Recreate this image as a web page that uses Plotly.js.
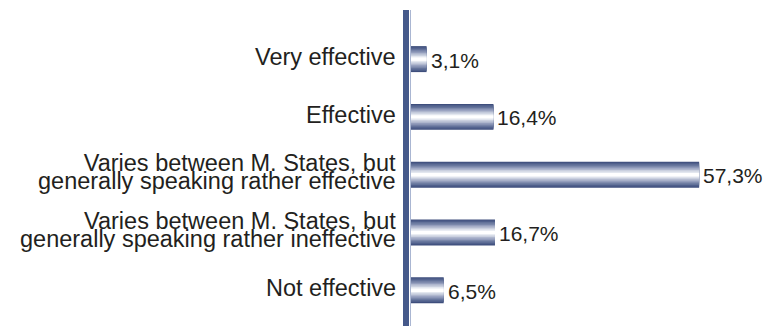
<!DOCTYPE html>
<html>
<head>
<meta charset="utf-8">
<script src="https://cdn.plot.ly/plotly-3.0.1.min.js"></script>
<style>
  html, body { margin: 0; padding: 0; background: #ffffff; }
  #chart { width: 766px; height: 326px; }
</style>
</head>
<body>
<div id="chart"></div>
<script>
// ---- data ----
var categories = [
  "Very effective",
  "Effective",
  "Varies between M. States, but\ngenerally speaking rather effective",
  "Varies between M. States, but\ngenerally speaking rather ineffective",
  "Not effective"
];
var values = [3.1, 16.4, 57.3, 16.7, 6.5];
var valueLabels = ["3,1%", "16,4%", "57,3%", "16,7%", "6,5%"];

// ---- styling: layered bars to imitate the metallic gradient ----
var layers = [
  {w: 0.45, c: "#3e4e7c"},
  {w: 0.41, c: "#4f5f8b"},
  {w: 0.36, c: "#63729a"},
  {w: 0.31, c: "#7a87aa"},
  {w: 0.26, c: "#939dbc"},
  {w: 0.21, c: "#aeb6cd"},
  {w: 0.16, c: "#cad0df"},
  {w: 0.11, c: "#e3e7ef"},
  {w: 0.06, c: "#ffffff"}
];

var traces = layers.map(function (L) {
  return {
    type: "bar",
    orientation: "h",
    x: values,
    y: categories,
    width: L.w,
    marker: {color: L.c, line: {width: 0}},
    textposition: "none",
    hoverinfo: "skip",
    showlegend: false
  };
});

var FONT = "Liberation Sans, Arial, sans-serif";
var CAT_SIZE = 23.5;
var LINE_EM = 18 / CAT_SIZE;          // tight line spacing of the reference
var annotations = [];
categories.forEach(function (cat, i) {
  var lines = cat.split("\n");
  var n = lines.length;
  // compensate for tightening the line spacing after render (Plotly uses 1.3em)
  var comp = (n - 1) * (1.3 - LINE_EM) * CAT_SIZE / 2;
  annotations.push({
    xref: "x", yref: "y",
    x: 0, y: cat,
    xanchor: "right", yanchor: "middle", align: "right",
    xshift: -14,
    yshift: 2 - comp,
    borderpad: 0,
    text: lines.join("<br>"),
    showarrow: false,
    font: {family: FONT, size: CAT_SIZE, color: "#231f20"}
  });
  // value label
  annotations.push({
    xref: "x", yref: "y",
    x: values[i], y: cat,
    xanchor: "left", yanchor: "middle",
    xshift: 3, yshift: -1,
    borderpad: 0,
    text: valueLabels[i],
    showarrow: false,
    font: {family: FONT, size: 21, color: "#231f20"}
  });
});

var plotW = 766 - 411 - 3;
var layout = {
  width: 766, height: 326,
  margin: {l: 411, r: 3, t: 10, b: 0, pad: 0},
  paper_bgcolor: "#ffffff",
  plot_bgcolor: "#ffffff",
  barmode: "overlay",
  showlegend: false,
  xaxis: {
    range: [0, 70], autorange: false,
    showgrid: false, zeroline: false, showline: false,
    showticklabels: false, ticks: ""
  },
  yaxis: {
    type: "category",
    categoryorder: "array", categoryarray: categories,
    range: [4.62, -0.85], autorange: false,
    showgrid: false, zeroline: false, showline: false,
    showticklabels: false, ticks: ""
  },
  shapes: [
    {type: "rect", xref: "paper", x0: -8 / plotW, x1: -2 / plotW,
     yref: "paper", y0: 0, y1: 1, fillcolor: "#45598a", line: {width: 0}, layer: "above"},
    {type: "line", xref: "paper", x0: -0.5 / plotW, x1: -0.5 / plotW,
     yref: "paper", y0: 0, y1: 1, line: {color: "#aab6d2", width: 1}, layer: "above"}
  ],
  annotations: annotations
};

Plotly.newPlot("chart", traces, layout, {displayModeBar: false, staticPlot: true}).then(function (gd) {
  var texts = gd.querySelectorAll("text.annotation-text");
  texts.forEach(function (t) {
    var ls = t.querySelectorAll("tspan.line");
    ls.forEach(function (sp, k) {
      sp.setAttribute("dy", (k * LINE_EM).toFixed(4) + "em");
    });
  });
});
</script>
</body>
</html>
